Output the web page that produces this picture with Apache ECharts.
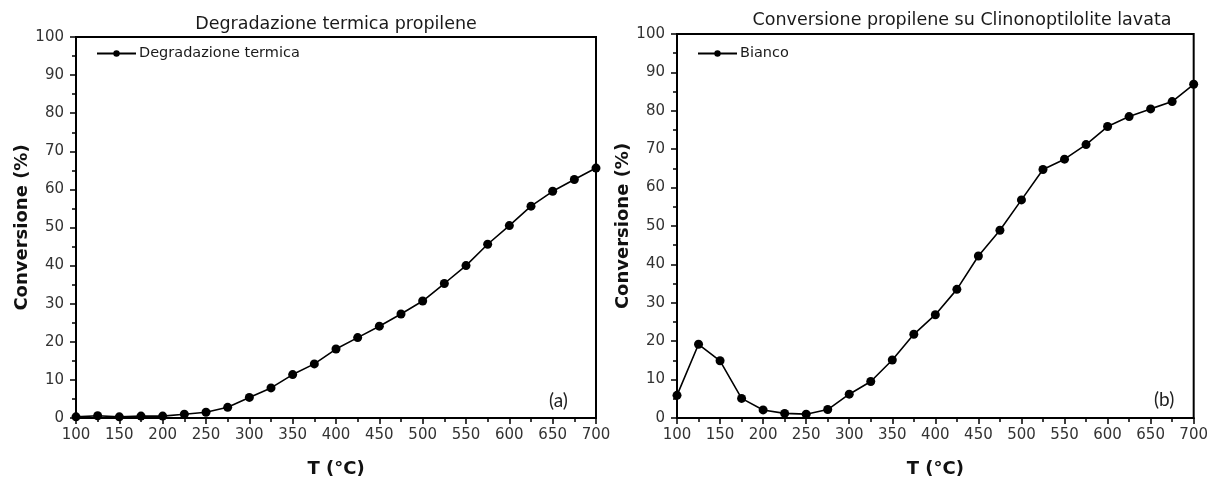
<!DOCTYPE html>
<html><head><meta charset="utf-8">
<script src="https://cdn.jsdelivr.net/npm/echarts@6/dist/echarts.min.js"></script>
<style>html,body{margin:0;padding:0;background:#fff}#c{width:1211px;height:483px}</style>
</head><body><div id="c"></div>
<script>
const temperatures = [100,125,150,175,200,225,250,275,300,325,350,375,400,425,450,475,500,525,550,575,600,625,650,675,700];
const degradazioneTermica = [0.3,0.6,0.3,0.5,0.5,1.0,1.5,2.8,5.4,7.9,11.4,14.2,18.1,21.1,24.1,27.3,30.7,35.3,40.0,45.6,50.5,55.6,59.5,62.6,65.6];
const bianco = [5.9,19.2,14.9,5.1,2.1,1.2,1.0,2.2,6.2,9.5,15.1,21.8,26.9,33.5,42.2,48.9,56.8,64.7,67.4,71.2,75.9,78.5,80.5,82.4,86.9];
const titles = ['Degradazione termica propilene','Conversione propilene su Clinonoptilolite lavata'];
const seriesNames = ['Degradazione termica','Bianco'];
const panelLabels = ['(a)','(b)'];
const xName = 'T (°C)';
const yName = 'Conversione (%)';

const font = 'DejaVu Sans';
function xAxis(i){
  return {type:'value', gridIndex:i, min:100, max:700, interval:50,
    name:xName, nameLocation:'middle', nameGap:42,
    nameTextStyle:{fontFamily:font, fontWeight:'bold', fontSize:18, color:'#111'},
    axisLine:{lineStyle:{color:'#000', width:2}},
    axisTick:{length:6, lineStyle:{color:'#000', width:1.5}},
    minorTick:{show:true, splitNumber:2, length:4, lineStyle:{color:'#000', width:1.5}},
    axisLabel:{fontFamily:font, fontSize:15, color:'#333', margin:10},
    splitLine:{show:false}};
}
function yAxis(i){
  return {type:'value', gridIndex:i, min:0, max:100, interval:10,
    name:yName, nameLocation:'middle', nameGap:44,
    nameTextStyle:{fontFamily:font, fontWeight:'bold', fontSize:18, color:'#111'},
    axisLine:{show:true, lineStyle:{color:'#000', width:2}},
    axisTick:{show:true, length:6, lineStyle:{color:'#000', width:1.5}},
    minorTick:{show:true, splitNumber:2, length:4, lineStyle:{color:'#000', width:1.5}},
    axisLabel:{fontFamily:font, fontSize:15, color:'#333', margin:12},
    splitLine:{show:false}};
}
function pairs(ys){ return temperatures.map((t,k)=>[t, ys[k]]); }
const lineSeries = (name, data, i) => ({
  name, type:'line', xAxisIndex:i, yAxisIndex:i, data:pairs(data),
  symbol:'circle', symbolSize:9, showSymbol:true,
  lineStyle:{color:'#000', width:1.6}, itemStyle:{color:'#000'},
  emphasis:{disabled:true}, animation:false
});

const chart = echarts.init(document.getElementById('c'), null, {renderer:'canvas'});
chart.setOption({
  animation:false,
  backgroundColor:'#fff',
  title:[
    {text:titles[0], left:336, top:15, textAlign:'center', padding:0,
     textStyle:{fontFamily:font, fontWeight:'normal', fontSize:17.5, color:'#1a1a1a'}},
    {text:titles[1], left:962, top:11, textAlign:'center', padding:0,
     textStyle:{fontFamily:font, fontWeight:'normal', fontSize:17.5, color:'#1a1a1a'}}
  ],
  grid:[
    {left:76, top:37, width:520, height:387, show:true, borderColor:'#000', borderWidth:2, backgroundColor:'transparent'},
    {left:677, top:34, width:521, height:389, show:true, borderColor:'#000', borderWidth:2, backgroundColor:'transparent'}
  ],
  xAxis:[xAxis(0), xAxis(1)],
  yAxis:[yAxis(0), yAxis(1)],
  legend:[
    {data:[seriesNames[0]], left:96, top:46, padding:0, itemWidth:39, itemHeight:8, itemGap:4,
     textStyle:{fontFamily:font, fontSize:14.5, color:'#1a1a1a', padding:[0,0,0,-2]}},
    {data:[seriesNames[1]], left:697, top:46, padding:0, itemWidth:39, itemHeight:8, itemGap:4,
     textStyle:{fontFamily:font, fontSize:14.5, color:'#1a1a1a', padding:[0,0,0,-2]}}
  ],
  graphic:[
    {type:'text', left:549, top:391, style:{text:panelLabels[0], font:'19px Lato', fill:'#222'}},
    {type:'text', left:1154, top:390, style:{text:panelLabels[1], font:'19px Lato', fill:'#222'}}
  ],
  series:[ lineSeries(seriesNames[0], degradazioneTermica, 0), lineSeries(seriesNames[1], bianco, 1) ]
});
</script></body></html>
